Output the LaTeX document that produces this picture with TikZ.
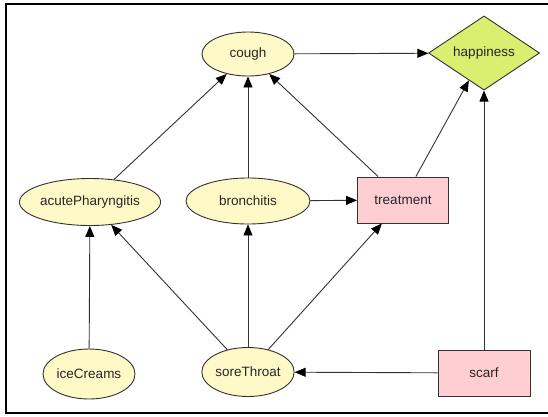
\documentclass[tikz,border=0pt]{standalone}
\usepackage{fontspec}
\setmainfont{Liberation Sans}
\usetikzlibrary{shapes.geometric,arrows.meta}
\definecolor{chancefill}{RGB}{255,249,200}
\definecolor{decisionfill}{RGB}{255,206,210}
\definecolor{utilityfill}{RGB}{218,238,112}
\definecolor{edgegray}{RGB}{50,50,50}
\begin{document}
\begin{tikzpicture}
[x=1pt,y=-1pt,
 chance/.style={ellipse,draw=edgegray,fill=chancefill,line width=0.9pt,inner sep=0pt},
 decision/.style={rectangle,draw=edgegray,fill=decisionfill,line width=0.9pt,inner sep=0pt},
 utility/.style={diamond,draw=edgegray,fill=utilityfill,line width=0.9pt,inner sep=0pt},
 link/.style={draw=edgegray,line width=0.9pt,-{Triangle[length=11pt,width=9pt,color=black]}},
 every node/.style={font=\fontsize{13.5}{16}\selectfont,text=black!85}]
\useasboundingbox (0,0) rectangle (548,416);
\draw [line width=2pt] (548,4) -- (6,4) -- (6,413) -- (548,413);
% top row
\node [chance,minimum width=92pt,minimum height=44pt] (cough) at (248,54) {cough};
\node [utility,minimum width=111pt,minimum height=59pt] (happiness) at (484,53) {happiness};
% middle row
\node [chance,minimum width=134pt,minimum height=47pt] (acute) at (90,202) {acutePharyngitis};
\node [chance,minimum width=124pt,minimum height=46pt] (bronchitis) at (248,201) {bronchitis};
\node [decision,minimum width=91pt,minimum height=46pt] (treatment) at (403,200) {treatment};
% bottom row
\node [chance,minimum width=92pt,minimum height=50pt] (iceCreams) at (89,374) {iceCreams};
\node [chance,minimum width=90pt,minimum height=49pt] (soreThroat) at (248,372) {soreThroat};
\node [decision,minimum width=92pt,minimum height=46pt] (scarf) at (484,373) {scarf};
% arcs
\draw [link] (cough) -- (happiness);
\draw [link] (acute) -- (cough);
\draw [link] (bronchitis) -- (cough);
\draw [link] (treatment) -- (cough);
\draw [link] (treatment) -- (happiness);
\draw [link] (bronchitis) -- (treatment);
\draw [link] (iceCreams) -- (acute);
\draw [link] (soreThroat) -- (acute);
\draw [link] (soreThroat) -- (bronchitis);
\draw [link] (soreThroat) -- (treatment);
\draw [link] (scarf) -- (soreThroat);
\draw [link] (scarf) -- (happiness);
\end{tikzpicture}
\end{document}
